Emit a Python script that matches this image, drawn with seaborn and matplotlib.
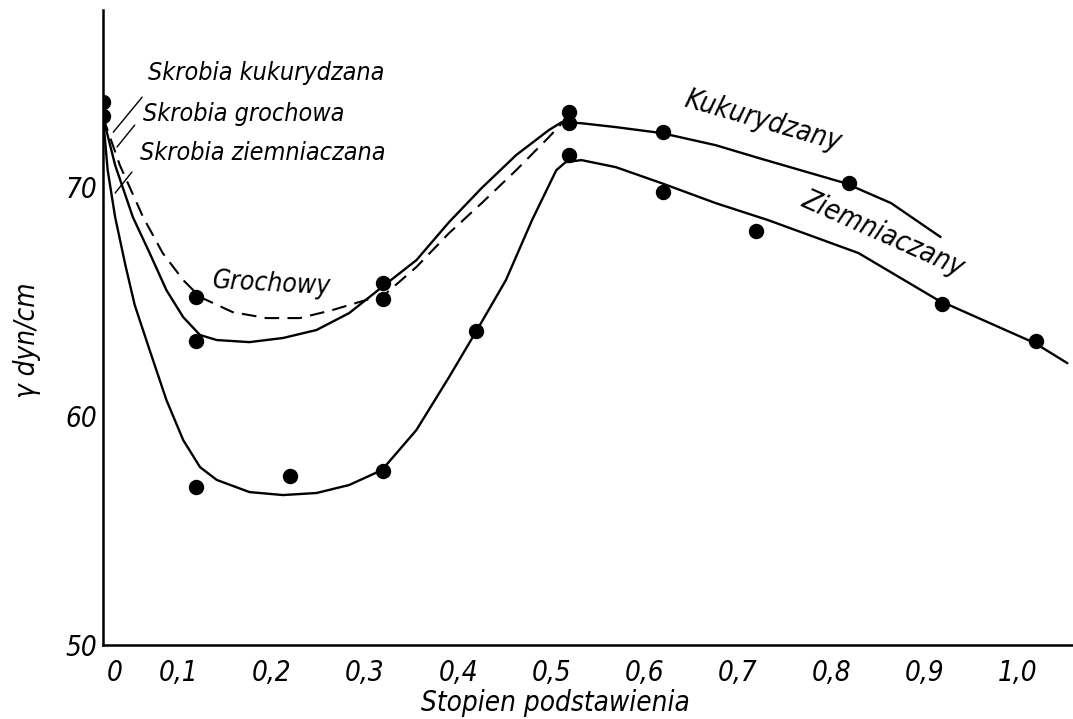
import matplotlib
matplotlib.use("Agg")
from matplotlib import pyplot as plt
from matplotlib import transforms
from matplotlib import font_manager
import seaborn as sns

# measured points (stopien podstawienia, gamma in dyn/cm)
corn_x = [0.0, 0.1, 0.3, 0.5, 0.6, 0.8]
corn_y = [73.7, 63.3, 65.8, 72.8, 72.4, 70.2]
pea_x = [0.0, 0.1, 0.3, 0.5]
pea_y = [73.1, 65.2, 65.1, 73.3]
potato_x = [0.1, 0.2, 0.3, 0.4, 0.5, 0.6, 0.7, 0.9, 1.0]
potato_y = [56.9, 57.4, 57.6, 63.7, 71.4, 69.8, 68.1, 64.9, 63.3]

# hand drawn curves
corn_cx = [0.0, 0.013, 0.032, 0.050, 0.068, 0.086, 0.104, 0.122, 0.157, 0.193,
           0.229, 0.264, 0.299, 0.336, 0.371, 0.406, 0.443, 0.478, 0.492, 0.513,
           0.550, 0.599, 0.657, 0.703, 0.796, 0.845, 0.898]
corn_cy = [73.06, 70.96, 68.69, 67.12, 65.50, 64.32, 63.54, 63.32, 63.23, 63.41,
           63.76, 64.50, 65.63, 66.81, 68.47, 69.96, 71.40, 72.49, 72.84, 72.79,
           72.62, 72.36, 71.83, 71.27, 70.17, 69.30, 67.82]
pea_cx = [0.0, 0.018, 0.043, 0.064, 0.086, 0.104, 0.139, 0.175, 0.211, 0.246,
          0.282, 0.299, 0.336, 0.371, 0.406, 0.443, 0.478, 0.492]
pea_cy = [73.06, 70.96, 68.69, 67.12, 65.94, 65.20, 64.54, 64.28, 64.28, 64.63,
          65.07, 65.20, 66.51, 67.99, 69.30, 70.74, 72.18, 72.79]
potato_cx = [0.0, 0.005, 0.013, 0.024, 0.034, 0.050, 0.068, 0.086, 0.104, 0.122,
             0.157, 0.193, 0.229, 0.264, 0.299, 0.336, 0.371, 0.401, 0.432, 0.460,
             0.486, 0.496, 0.513, 0.550, 0.599, 0.657, 0.713, 0.810, 0.895, 0.999,
             1.034]
potato_cy = [73.06, 70.74, 68.69, 66.59, 64.85, 62.88, 60.70, 58.95, 57.77, 57.21,
             56.68, 56.55, 56.64, 56.99, 57.64, 59.39, 61.70, 63.76, 65.94, 68.56,
             70.74, 71.09, 71.18, 70.87, 70.17, 69.30, 68.56, 67.12, 65.07, 63.19,
             62.31]

xticks = [0.0, 0.1, 0.2, 0.3, 0.4, 0.5, 0.6, 0.7, 0.8, 0.9, 1.0]
xlabels = ["0", "0,1", "0,2", "0,3", "0,4", "0,5", "0,6", "0,7", "0,8", "0,9", "1,0"]
yticks = [50, 60, 70]

sns.set_style("white")
names = {f.name for f in font_manager.fontManager.ttflist}
narrow = [n for n in ["Liberation Sans Narrow", "DejaVu Sans Condensed"] if n in names]
plt.rcParams["font.family"] = narrow + ["DejaVu Sans"]
plt.rcParams["font.style"] = "italic"
plt.rcParams["font.stretch"] = "condensed"
plt.rcParams["text.color"] = "black"

fig = plt.figure(figsize=(10.73, 7.19), dpi=100)
ax = fig.add_axes([0.096, 0.1029, 0.904, 0.883])

sns.lineplot(x=corn_cx, y=corn_cy, ax=ax, color="black", lw=1.7, sort=False, estimator=None)
sns.lineplot(x=potato_cx, y=potato_cy, ax=ax, color="black", lw=1.7, sort=False, estimator=None)
sns.lineplot(x=pea_cx, y=pea_cy, ax=ax, color="black", lw=1.5, sort=False, estimator=None)
ax.lines[-1].set_dashes((7, 4))

for xs, ys in [(corn_x, corn_y), (pea_x, pea_y), (potato_x, potato_y)]:
    sns.scatterplot(x=xs, y=ys, ax=ax, color="black", s=105, edgecolor="black", zorder=5)

# leader lines for the left hand labels
ax.plot([0.042, 0.011], [73.93, 72.40], color="black", lw=1)
ax.plot([0.034, 0.015], [72.71, 71.75], color="black", lw=1)
ax.plot([0.031, 0.013], [70.66, 69.74], color="black", lw=1)

fs = 20
ax.text(0.048, 75.0, "Skrobia kukurydzana", fontsize=18, va="center")
ax.text(0.043, 73.2, "Skrobia grochowa", fontsize=18, va="center")
ax.text(0.040, 71.5, "Skrobia ziemniaczana", fontsize=18, va="center")
ax.text(0.181, 65.75, "Grochowy", fontsize=19, ha="center", va="center", rotation=-3)
ax.text(0.708, 72.9, "Kukurydzany", fontsize=fs, ha="center", va="center", rotation=-16)
ax.text(0.836, 67.95, "Ziemniaczany", fontsize=fs, ha="center", va="center", rotation=-24)

ax.set_xlim(0, 1.04)
ax.set_ylim(50, 77.73)
for s in ["top", "right"]:
    ax.spines[s].set_visible(False)
for s in ["left", "bottom"]:
    ax.spines[s].set_linewidth(1.8)
    ax.spines[s].set_color("black")

ax.set_xticks(xticks)
ax.set_xticklabels(xlabels)
ax.set_yticks(yticks)
ax.set_yticklabels([str(v) for v in yticks])
ax.tick_params(axis="x", direction="in", length=14, width=1.2, pad=10, labelsize=fs, colors="black")
ax.tick_params(axis="y", direction="in", length=10, width=1.0, pad=4, labelsize=fs, colors="black")
ax.xaxis.get_major_ticks()[0].tick1line.set_visible(False)
ax.yaxis.get_major_ticks()[0].tick1line.set_visible(False)

for i, lab in enumerate(ax.get_xticklabels()):
    dx = 12 if i == 0 else -18
    lab.set_transform(lab.get_transform() + transforms.ScaledTranslation(dx / 100, 0, fig.dpi_scale_trans))

fig.text(0.025, 0.527, "γ dyn/cm", rotation=90, fontsize=fs, ha="center", va="center")
fig.text(0.518, 0.022, "Stopien podstawienia", fontsize=fs, ha="center", va="center")

plt.savefig("out.png", dpi=100)
